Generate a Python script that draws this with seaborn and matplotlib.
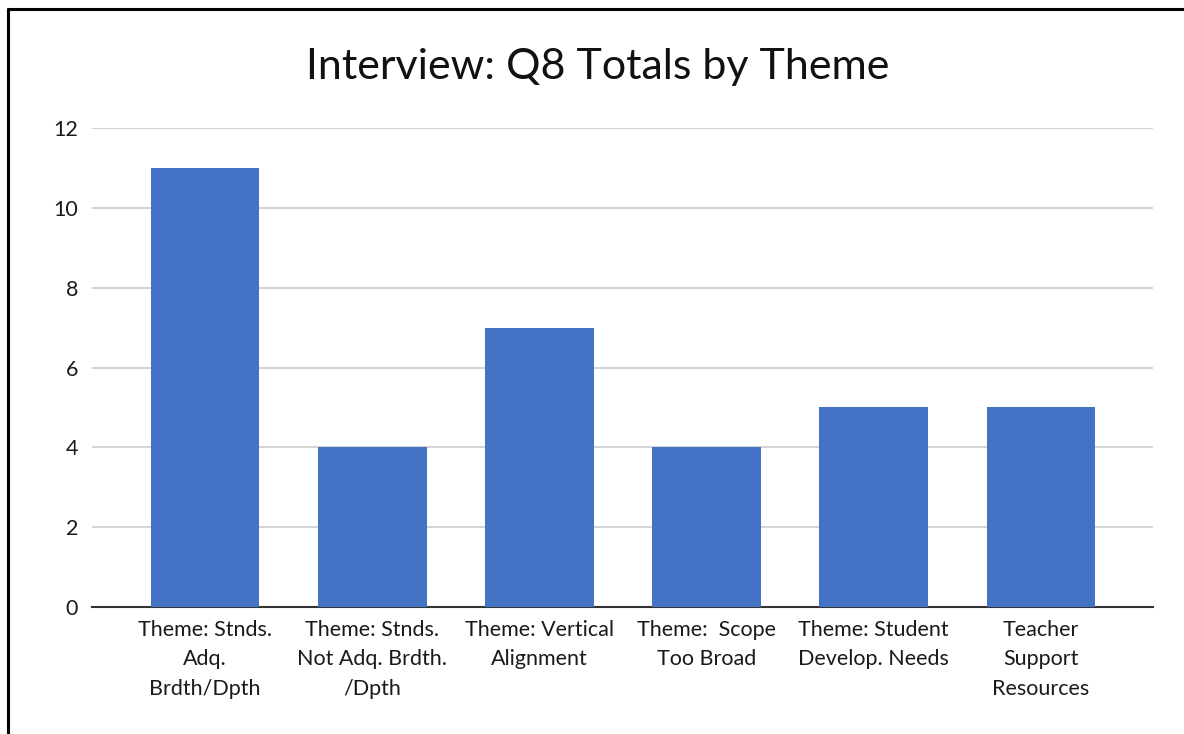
import matplotlib
matplotlib.use("Agg")
import matplotlib.pyplot as plt
import pandas as pd
import seaborn as sns
from matplotlib.lines import Line2D

themes = [
    "Theme: Stnds.\nAdq.\nBrdth/Dpth",
    "Theme: Stnds.\nNot Adq. Brdth.\n/Dpth",
    "Theme: Vertical\nAlignment",
    "Theme:  Scope\nToo Broad",
    "Theme: Student\nDevelop. Needs",
    "Teacher\nSupport\nResources",
]
totals = [11, 4, 7, 4, 5, 5]
y_ticks = [0, 2, 4, 6, 8, 10, 12]

sns.set_style("white")
plt.rcParams["font.family"] = ["Lato", "DejaVu Sans"]

df = pd.DataFrame({"theme": themes, "total": totals})

fig = plt.figure(figsize=(11.84, 7.34), dpi=100)
ax = fig.add_axes([92 / 1184, 1 - 607 / 734, 1061 / 1184, 479 / 734])

sns.barplot(data=df, x="theme", y="total", color="#4472C4", saturation=1,
            width=0.65, linewidth=0, ax=ax, zorder=3)

ax.set_xlim(-0.676, 5.67)
ax.set_ylim(0, 12)
ax.set_yticks(y_ticks)
ax.yaxis.grid(True, color="#cccccc", linewidth=1.2, zorder=0)
ax.set_axisbelow(True)
for side in ["top", "right", "left"]:
    ax.spines[side].set_visible(False)
ax.spines["bottom"].set_color("#333333")
ax.spines["bottom"].set_linewidth(1.5)
ax.tick_params(axis="y", length=0, pad=10, labelsize=15.5, labelcolor="#1a1a1a")
ax.tick_params(axis="x", length=0, pad=9, labelsize=15.5, labelcolor="#1a1a1a")
for lbl in ax.get_xticklabels():
    lbl.set_multialignment("center")
    lbl.set_linespacing(1.6)
ax.set_xlabel("")
ax.set_ylabel("")

fig.text(598 / 1184, 1 - 67 / 734, "Interview: Q8 Totals by Theme",
         ha="center", va="center", fontsize=31, color="#111111")

# frame lines from the surrounding document
fig.add_artist(Line2D([8 / 1184, 8 / 1184], [0, 1 - 9 / 734], color="black", linewidth=2.2))
fig.add_artist(Line2D([8 / 1184, 1], [1 - 9 / 734, 1 - 9 / 734], color="black", linewidth=2.2))

fig.savefig("out.png", dpi=100)
plt.close(fig)
